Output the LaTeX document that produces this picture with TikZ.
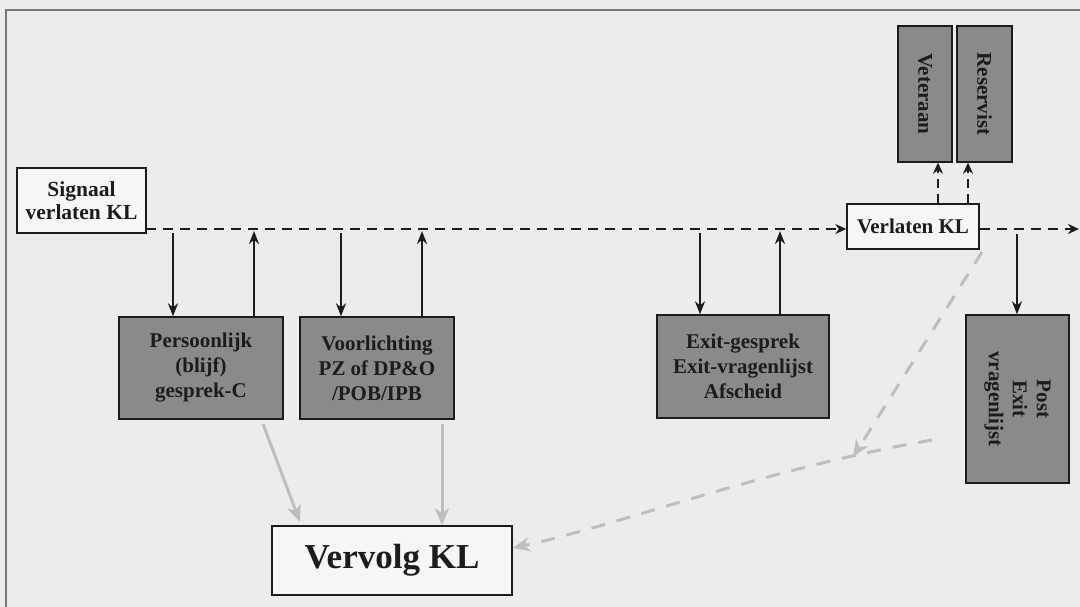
\documentclass[tikz,border=0pt]{standalone}
\usepackage{fontspec}
\setmainfont{Liberation Serif}
\usetikzlibrary{arrows.meta}
\definecolor{bgc}{RGB}{236,236,236}
\definecolor{boxgray}{RGB}{138,138,138}
\definecolor{lightbox}{RGB}{246,246,246}
\definecolor{ink}{RGB}{28,28,28}
\definecolor{faint}{RGB}{190,190,190}
\definecolor{framec}{RGB}{120,120,120}
\tikzset{
  whitebox/.style={draw=ink, line width=1.4pt, fill=lightbox, text=ink, font=\bfseries\fontsize{21.5}{23}\selectfont, align=center, inner sep=0pt},
  graybox/.style={draw=ink, line width=1.4pt, fill=boxgray, text=ink, font=\bfseries\fontsize{21}{25}\selectfont, align=center, inner sep=0pt},
  solidarrow/.style={draw=ink, line width=2.2pt, -{Stealth[length=13pt,width=10pt]}},
  dashline/.style={draw=ink, line width=2.8pt, dash pattern=on 10pt off 7pt},
  dasharrow/.style={dashline, -{Stealth[length=11pt,width=10pt]}},
  updash/.style={draw=ink, line width=2pt, dash pattern=on 9pt off 6pt, -{Stealth[length=11pt,width=10pt]}},
  grayarrow/.style={draw=faint, line width=3pt, -{Stealth[length=17pt,width=14pt,inset=5pt]}},
  graydash/.style={draw=faint, line width=3pt, dash pattern=on 14pt off 12pt, -{Stealth[length=17pt,width=14pt,inset=5pt]}},
}
\begin{document}
\begin{tikzpicture}[x=1pt,y=-1pt]
\fill[bgc] (0,0) rectangle (1080,607);
\useasboundingbox (0,0) rectangle (1080,607);
% page frame
\draw[framec, line width=1.2pt] (6,607) -- (6,10) -- (1080,10);

% nodes
\node[whitebox, minimum width=129pt, minimum height=65pt] (sig) at (81.5,200.5) {Signaal\\verlaten KL};
\node[whitebox, minimum width=132pt, minimum height=45pt, font=\bfseries\fontsize{21}{24}\selectfont] (verl) at (913,226.5) {Verlaten KL};
\node[graybox, minimum width=164pt, minimum height=102pt] (pers) at (201,368) {Persoonlijk\\(blijf)\\gesprek-C};
\node[graybox, minimum width=154pt, minimum height=102pt] (voor) at (377,368) {Voorlichting\\PZ of DP\&O\\/POB/IPB};
\node[graybox, minimum width=172pt, minimum height=103pt] (exit) at (743,366.5) {Exit-gesprek\\Exit-vragenlijst\\Afscheid};
\node[graybox, rotate=-90, minimum width=136pt, minimum height=54pt] (vet) at (925,94) {Veteraan};
\node[graybox, rotate=-90, minimum width=136pt, minimum height=55pt] (res) at (984.5,94) {Reservist};
\node[graybox, rotate=-90, minimum width=168pt, minimum height=103pt, font=\bfseries\fontsize{21}{24}\selectfont] (post) at (1017.5,399) {Post\\Exit\\vragenlijst};
\node[whitebox, minimum width=240pt, minimum height=69pt, font=\bfseries\fontsize{35}{38}\selectfont] (verv) at (392,560.5) {Vervolg KL};

% coordinates
\coordinate (d0) at (146,229);
\coordinate (dEnd) at (1079,229);

% main dashed line
\draw[dasharrow] (d0) -- (d0 -| verl.west);
\draw[dasharrow] (d0 -| verl.east) -- (dEnd);

% vertical solid arrows
\coordinate (a1) at (173,233);
\coordinate (a2) at (254,231);
\coordinate (a3) at (341,233);
\coordinate (a4) at (422,231);
\coordinate (a5) at (700,233);
\coordinate (a6) at (780,231);
\coordinate (a7) at (1017,234);
\draw[solidarrow] (a1) -- (a1 |- pers.north);
\draw[solidarrow] (a2 |- pers.north) -- (a2);
\draw[solidarrow] (a3) -- (a3 |- voor.north);
\draw[solidarrow] (a4 |- voor.north) -- (a4);
\draw[solidarrow] (a5) -- (a5 |- exit.north);
\draw[solidarrow] (a6 |- exit.north) -- (a6);
\draw[solidarrow] (a7) -- (a7 |- post.west);

% dashed up arrows to Veteraan / Reservist
\coordinate (v1) at (938,0);
\coordinate (v2) at (968,0);
\draw[updash] (v1 |- verl.north) -- (v1 |- vet.east);
\draw[updash] (v2 |- verl.north) -- (v2 |- res.east);

% gray arrows to Vervolg KL
\coordinate (g1) at (263,424);
\coordinate (g1e) at (300,522);
\coordinate (g2) at (442,424);
\draw[grayarrow] (g1) -- (g1e);
\draw[grayarrow] (g2) -- (g2 |- verv.north);

% gray dashed connectors
\coordinate (gd0) at (982,252);
\coordinate (gd1) at (853,457);
\draw[graydash] (gd0) -- (gd1);
\coordinate (pc) at (932,440);
\draw[graydash] (pc) .. controls (760,470) and (620,525) .. (verv.east |- 0,548);
\end{tikzpicture}
\end{document}
